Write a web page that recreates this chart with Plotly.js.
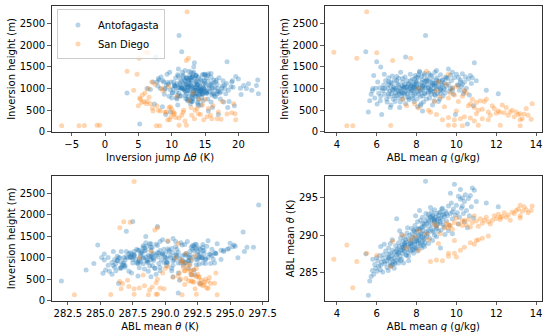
<!DOCTYPE html>
<html>
<head>
<meta charset="utf-8">
<script src="https://cdn.plot.ly/plotly-3.0.1.min.js"></script>
<style>html,body{margin:0;padding:0;background:#fff;}#chart{width:550px;height:335px;}</style>
</head>
<body>
<div id="chart"></div>
<script>
const antoQ = [
5.58,5.65,5.72,5.78,5.45,5.85,5.9,5.95,6.02,6.05,
6.1,6.15,6.2,6.0,6.25,6.18,5.8,6.3,6.35,6.4,
6.45,6.5,6.52,6.55,6.6,6.62,6.65,6.7,6.72,6.75,
6.78,6.8,6.83,6.85,6.88,6.9,6.92,6.95,6.97,7.0,
6.38,6.68,6.58,6.78,6.3,7.03,7.05,7.08,7.1,7.12,
7.15,7.18,7.2,7.22,7.25,7.28,7.3,7.32,7.35,7.38,
7.4,7.42,7.45,7.47,7.5,7.52,7.55,7.58,7.6,7.62,
7.65,7.68,7.7,7.45,7.0,7.15,7.35,7.55,7.25,7.6,
7.72,7.75,7.78,7.8,7.82,7.85,7.88,7.9,7.92,7.95,
7.97,8.0,8.02,8.05,8.08,8.1,8.12,8.15,8.18,8.2,
8.22,8.25,8.28,8.3,8.32,8.35,8.38,8.4,8.42,8.45,
8.47,8.5,7.85,8.05,8.25,7.95,8.15,8.35,7.75,8.45,
8.0,8.2,8.4,7.9,8.3,8.52,8.55,8.58,8.6,8.62,
8.65,8.68,8.7,8.72,8.75,8.78,8.8,8.82,8.85,8.88,
8.9,8.92,8.95,8.98,9.0,9.03,9.06,9.1,9.13,9.16,
9.2,9.23,9.26,9.3,9.33,9.36,9.4,9.43,9.46,9.5,
8.6,8.8,9.0,9.2,8.7,9.1,8.9,9.55,9.6,9.65,
9.7,9.75,9.8,9.85,9.9,9.95,10.0,10.05,10.1,10.15,
10.2,10.25,10.3,10.35,10.4,10.45,10.5,10.55,10.6,10.65,
10.7,10.75,10.8,10.9,11.0,10.85,11.5,12.1,9.6,10.1,
9.8,10.4,9.7,10.2,7.4,9.3,6.6,6.9,7.1,7.3,
7.5,7.7,7.8,7.9,8.0,8.1,8.2,8.3,8.4,8.5,
8.6,8.7,8.8,8.9,9.0,9.1,9.2,9.3,9.4,9.5,
6.4,6.6,6.8,7.0,7.2,7.4,7.6,7.8,8.0,8.2,
8.4,8.6,8.8,9.0,9.2,7.3,7.9,6.7,8.3,9.8,
10.3,7.1,7.7,6.2,8.9,8.1];
const antoTheta = [
282.0,283.9,284.5,285.3,287.5,284.8,286.1,285.6,285.2,286.6,
285.9,287.3,288.5,287.0,286.4,285.4,286.8,286.9,287.4,286.2,
287.9,286.6,285.7,287.1,288.3,286.9,286.3,287.6,285.9,286.8,
287.3,288.0,286.5,287.0,285.6,287.8,286.2,288.6,287.4,286.7,
288.8,288.9,285.3,289.4,285.1,287.5,288.2,286.9,289.0,287.8,
288.5,287.2,289.6,288.0,286.8,288.7,287.6,289.2,288.3,287.9,
289.8,288.6,287.4,289.1,288.1,290.3,288.8,287.7,289.5,288.4,
290.0,288.9,287.9,289.4,292.2,290.6,286.3,291.0,290.1,286.6,
289.3,288.6,290.2,289.0,288.1,290.7,289.6,288.8,291.3,289.9,
288.4,290.4,289.2,291.8,288.9,290.0,289.5,290.8,288.6,289.8,
291.0,290.3,289.1,292.4,290.6,289.4,291.5,290.1,289.0,297.2,
292.9,290.5,287.6,287.9,288.3,292.6,293.3,288.7,290.9,291.9,
288.2,292.0,288.5,290.5,291.1,291.6,292.3,290.2,292.8,291.2,
289.6,292.5,291.9,290.8,293.1,292.1,291.4,292.7,290.4,292.2,
293.4,291.7,292.4,291.0,292.9,292.0,291.5,292.6,293.0,291.8,
292.3,290.7,293.5,292.1,291.4,292.8,292.5,290.1,293.2,291.9,
288.9,289.3,289.8,288.3,293.7,290.5,290.0,292.6,293.9,291.3,
292.9,294.3,292.2,293.5,296.8,292.7,294.0,293.0,295.2,292.4,
294.8,293.6,295.0,292.9,294.5,295.4,293.3,291.0,294.9,292.6,
295.3,293.8,296.3,296.0,294.5,292.3,294.3,293.8,290.6,291.5,
290.2,291.8,295.6,296.1,288.7,293.6,287.0,286.4,287.6,288.1,
287.3,288.5,289.7,288.3,289.4,290.9,288.9,289.7,291.2,289.9,
291.8,292.4,290.6,292.0,291.3,292.2,291.6,292.7,291.1,292.9,
286.5,287.5,286.1,288.0,286.6,288.9,287.2,288.0,290.8,290.1,
289.6,290.6,292.5,290.9,293.1,288.4,289.1,286.0,291.6,293.1,
293.9,286.3,289.0,286.0,291.9,289.3];
const antoHeight = [
460,720,870,950,1850,1300,780,1010,640,1150,
890,1020,1500,1620,400,720,1000,950,1080,870,
1180,760,690,1000,1250,820,940,1060,620,880,
1120,980,760,1030,830,1200,700,900,1010,840,
1330,560,1090,1290,1010,960,1110,780,1240,880,
1020,690,1380,930,820,1060,1150,760,990,870,
1090,1270,650,940,1050,1180,810,970,1120,740,
1010,1330,900,1730,1280,560,1040,880,1000,780,
1060,950,1210,820,1100,990,700,1030,1300,890,
1160,1050,760,940,1250,1000,870,1380,930,1090,
650,1140,980,1200,830,1020,1310,900,1080,2230,
1170,760,1040,580,1280,1000,1400,690,1070,1010,
1150,610,1350,1220,480,1100,1240,890,1010,1350,
780,960,1150,1060,870,1290,930,1200,1000,720,
1090,1380,840,1130,990,1250,880,1040,1170,760,
1320,950,1080,1200,830,1010,1140,900,1270,1060,
1180,620,1420,1000,970,700,1110,1230,1100,940,
1310,1180,1020,870,1250,400,1330,1090,1260,960,
1200,1050,1340,880,1150,1270,1010,180,1220,850,
1300,1120,1250,1600,1180,600,960,880,1450,1070,
1380,940,1000,1150,900,1200,1150,1000,1080,900,
1020,1180,950,860,1120,1030,960,1060,880,1200,
1020,1310,1120,940,1050,1160,890,1100,980,1250,
1000,880,960,1180,900,1030,1100,770,1260,820,
1170,930,1080,1200,980,1230,1100,1150,1060,960,
1100,930,1000,820,860,1320];
const antoJump = [
9.8,12.4,8.9,14.1,11.5,13.6,10.7,16.2,7.4,12.9,
15.3,11.2,13.3,18.3,9.1,14.7,6.3,12.1,10.4,14.6,
8.7,13.2,15.9,11.6,17.1,9.6,12.7,14.2,10.9,16.8,
13.5,6.8,12.3,19.2,11.4,14.9,13.0,10.1,15.6,12.0,
9.3,16.1,13.8,11.0,20.3,13.4,10.8,14.5,12.2,16.3,
11.5,13.9,9.7,15.1,12.6,17.6,10.3,14.0,11.9,13.1,
15.8,8.4,12.8,14.4,10.6,13.7,16.6,11.8,15.0,12.5,
9.0,14.8,13.3,7.6,11.7,18.4,14.3,12.2,21.2,10.0,
12.9,14.6,11.3,13.6,16.0,10.2,13.1,12.4,15.4,11.1,
14.1,13.0,17.3,12.0,10.6,14.7,13.5,11.6,15.7,12.8,
13.9,9.4,14.3,12.5,16.4,11.0,13.7,15.2,12.1,11.1,
14.9,10.8,18.9,8.6,19.6,13.4,12.6,17.8,22.7,16.9,
7.2,14.0,13.2,20.0,15.5,13.8,12.3,14.5,11.4,15.9,
13.1,12.7,16.6,10.5,14.2,13.6,17.4,11.9,14.8,12.9,
15.1,13.3,10.9,16.2,14.0,12.2,18.1,13.7,11.5,15.4,
14.6,12.4,13.9,16.7,11.2,14.1,12.6,17.2,13.0,15.6,
19.1,14.4,12.0,16.0,9.8,18.6,21.5,13.5,12.1,15.3,
11.7,14.4,16.5,13.2,12.8,17.0,15.0,11.3,14.0,13.6,
16.3,12.4,15.5,14.7,19.0,13.1,17.5,5.2,14.3,16.0,
12.7,18.2,15.2,13.4,17.7,19.4,22.0,23.0,11.0,20.8,
12.9,10.7,14.8,9.9,3.3,22.9,7.8,8.3,9.2,10.1,
11.4,12.0,13.3,14.0,11.2,12.7,13.8,10.4,14.5,12.9,
13.2,15.0,11.8,14.2,12.5,13.6,16.1,12.3,14.9,13.0,
11.9,13.7,14.4,12.6,15.2,13.5,14.7,12.1,15.9,13.0,
15.5,16.8,17.9,8.1,9.0,8.0,9.5,8.8,7.9,18.5,
16.8,17.0,18.0,13.9,20.4,10.9];

const sdQ = [
3.85,5.5,5.0,6.0,6.8,7.7,4.5,4.8,6.7,9.6,
11.1,10.3,13.2,12.2,9.9,8.5,9.6,9.1,9.5,9.8,
10.0,8.1,9.7,10.4,
9.6,9.9,10.1,10.3,10.5,10.6,10.8,10.9,11.0,11.2,
11.3,11.4,11.5,11.6,11.8,11.9,12.0,12.1,12.2,12.3,
12.4,12.5,12.6,12.8,12.9,13.0,13.1,13.2,13.3,13.4,
13.5,13.6,13.8,13.75,13.2,11.1,12.7,11.7,10.7,
8.7,9.0,9.3,9.6,9.9,10.2,10.4,10.7,11.0,11.3,11.6,10.0,10.9,
7.5,7.9,8.1,8.9,9.2,8.6,9.4,7.3,9.0];
const sdTheta = [
286.8,287.6,286.5,287.3,289.2,289.4,288.7,283.0,285.8,287.6,
289.4,291.3,294.0,292.4,289.3,290.2,291.0,288.9,291.6,290.8,
292.3,288.0,291.3,292.0,
291.4,291.7,291.5,291.9,291.4,292.1,291.7,292.6,291.9,292.2,
291.6,292.0,292.4,291.8,292.0,292.6,292.2,292.8,292.1,292.5,
293.0,292.4,292.7,293.1,292.9,293.3,293.5,292.6,293.2,293.8,
293.4,293.0,293.9,293.3,292.3,291.2,292.0,291.5,291.1,
286.5,286.7,286.6,287.2,287.6,288.0,288.4,289.0,289.3,289.6,289.9,287.1,288.8,
288.3,289.8,290.6,291.5,290.2,289.4,291.0,290.0,291.2];
const sdHeight = [
1840,2780,1700,1830,1650,1700,140,140,145,150,
150,140,140,150,150,1400,1330,1150,1100,1000,
1050,1000,900,960,
780,850,700,820,900,600,750,560,680,720,
520,700,750,460,600,540,430,480,450,620,
440,560,380,500,350,460,400,420,300,410,
540,380,650,290,280,500,460,380,650,
450,400,280,330,280,300,350,320,420,300,280,480,250,
600,650,550,700,800,500,580,750,950];
const sdJump = [
6.0,12.3,5.1,6.5,12.2,12.5,-6.5,-3.9,-3.1,-1.2,
-0.8,7.7,8.2,11.1,12.2,3.3,4.8,7.0,7.5,6.5,
9.5,8.5,6.0,4.3,
5.2,5.6,6.3,10.8,13.2,7.8,14.1,9.6,5.5,12.6,
10.0,17.6,15.0,9.2,16.2,13.8,10.4,8.3,11.7,14.6,
19.0,12.9,15.8,13.5,9.9,17.0,14.3,19.5,16.8,18.3,
15.5,13.0,19.3,17.4,14.8,8.0,10.2,11.5,6.8,
9.0,10.3,9.7,10.6,9.4,13.4,15.3,11.1,14.0,16.0,19.6,7.2,12.0,
5.0,6.2,7.1,5.8,6.6,11.8,9.8,5.3,8.7];

const siteNames = ["Antofagasta", "San Diego"];
const siteColors = ["#1f77b4", "#ff7f0e"];

const thetaTicks = [282.5, 285.0, 287.5, 290.0, 292.5, 295.0, 297.5];
const heightTicks = [0, 500, 1000, 1500, 2000, 2500];
const jumpTicks = [-5, 0, 5, 10, 15, 20];
const qTicks = [4, 6, 8, 10, 12, 14];
const thetaYTicks = [285, 290, 295];

const sites = [
  {q: antoQ, th: antoTheta, h: antoHeight, j: antoJump},
  {q: sdQ, th: sdTheta, h: sdHeight, j: sdJump}
];

const panels = [
  {xa: "x", ya: "y", xk: "j", yk: "h"},
  {xa: "x2", ya: "y2", xk: "q", yk: "h"},
  {xa: "x3", ya: "y3", xk: "th", yk: "h"},
  {xa: "x4", ya: "y4", xk: "q", yk: "th"}
];

const traces = [];
panels.forEach((p, pi) => {
  sites.forEach((s, si) => {
    traces.push({
      type: "scatter", mode: "markers",
      x: s[p.xk], y: s[p.yk],
      xaxis: p.xa, yaxis: p.ya,
      name: siteNames[si], legendgroup: siteNames[si],
      showlegend: pi === 0,
      marker: {color: siteColors[si], size: 5, opacity: 0.32, line: {width: 0}},
      hoverinfo: "skip"
    });
  });
});

const font = {family: "DejaVu Sans, sans-serif", size: 10, color: "#000"};
function ax(extra) {
  return Object.assign({
    showline: true, mirror: true, linecolor: "#333", linewidth: 1,
    ticks: "outside", ticklen: 3.5, tickwidth: 0.8, tickcolor: "#333",
    showgrid: false, zeroline: false, automargin: false,
    tickfont: font
  }, extra);
}
function ttl(t, s) { return {text: t, font: font, standoff: s}; }

const colL = [0.094, 0.488], colR = [0.590, 0.986];
const rowT = [0.606, 0.982], rowB = [0.1015, 0.475];
const hRange = [-5, 2910];

const layout = {
  width: 550, height: 335,
  margin: {l: 0, r: 0, t: 0, b: 0},
  paper_bgcolor: "#fff", plot_bgcolor: "#fff",
  font: font,
  showlegend: true,
  legend: {x: 0.1036, y: 0.972, xanchor: "left", yanchor: "top",
           bgcolor: "rgba(255,255,255,0.8)", bordercolor: "#cccccc", borderwidth: 1,
           font: font, tracegroupgap: 0, itemwidth: 30},
  xaxis: ax({domain: colL, anchor: "y", range: [-8.0, 24.5], tickvals: jumpTicks,
             ticktext: jumpTicks.map(v => v < 0 ? "\u2212" + Math.abs(v) : String(v)),
             title: ttl("Inversion jump \u0394<i>\u03b8</i> (K)", 4)}),
  yaxis: ax({domain: rowT, anchor: "x", range: hRange, tickvals: heightTicks,
             title: ttl("Inversion height (m)", 2)}),
  xaxis2: ax({domain: colR, anchor: "y2", range: [3.38, 14.31], tickvals: qTicks,
              title: ttl("ABL mean <i>q</i> (g/kg)", 4)}),
  yaxis2: ax({domain: rowT, anchor: "x2", range: hRange, tickvals: heightTicks,
              title: ttl("Inversion height (m)", 2)}),
  xaxis3: ax({domain: colL, anchor: "y3", range: [281.25, 297.95], tickvals: thetaTicks,
              ticktext: thetaTicks.map(v => v.toFixed(1)),
              title: ttl("ABL mean <i>\u03b8</i> (K)", 4)}),
  yaxis3: ax({domain: rowB, anchor: "x3", range: hRange, tickvals: heightTicks,
              title: ttl("Inversion height (m)", 2)}),
  xaxis4: ax({domain: colR, anchor: "y4", range: [3.38, 14.31], tickvals: qTicks,
              title: ttl("ABL mean <i>q</i> (g/kg)", 4)}),
  yaxis4: ax({domain: rowB, anchor: "x4", range: [281.23, 297.9], tickvals: thetaYTicks,
              title: ttl("ABL mean <i>\u03b8</i> (K)", 2)})
};

Plotly.newPlot("chart", traces, layout, {staticPlot: true, displayModeBar: false});
</script>
</body>
</html>
